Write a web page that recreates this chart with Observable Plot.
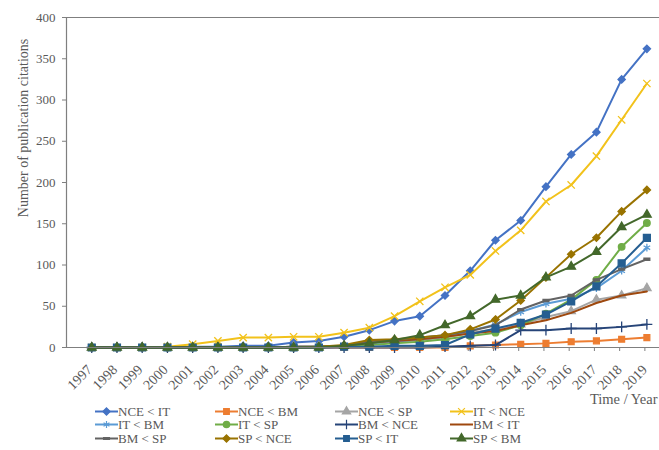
<!DOCTYPE html>
<html><head><meta charset="utf-8">
<script src="https://cdn.jsdelivr.net/npm/d3@7"></script>
<script src="https://cdn.jsdelivr.net/npm/@observablehq/plot@0.6"></script>
<style>
body{margin:0;background:#fff;}
#wrap{position:relative;width:659px;height:450px;font-family:"Liberation Serif","Times New Roman",serif;color:#595959;overflow:hidden;}
#legend{position:absolute;left:0;top:0;width:659px;height:450px;pointer-events:none;}
.item{position:absolute;display:flex;align-items:center;font-family:"Liberation Serif","Times New Roman",serif;font-size:13px;line-height:13px;white-space:nowrap;color:#595959;}
.item svg{display:block;}
</style></head><body><div id="wrap"><div id="chart"></div><div id="legend"></div></div>
<script>
// ---- data ----
const years = [1997,1998,1999,2000,2001,2002,2003,2004,2005,2006,2007,2008,2009,2010,2011,2012,2013,2014,2015,2016,2017,2018,2019];
const yTicks = [0,50,100,150,200,250,300,350,400];
const seriesNames = ["NCE < IT","NCE < BM","NCE < SP","IT < NCE","IT < BM","IT < SP","BM < NCE","BM < IT","BM < SP","SP < NCE","SP < IT","SP < BM"];
const NCE_IT = [0,0,0,0,1,1,2,2,6,8,13,21,32,38,63,93,130,154,195,234,261,325,362];
const NCE_BM = [0,0,0,0,0,0,0,0,0,0,0,0,0,0,0,2,3,4,5,7,8,10,12];
const NCE_SP = [0,0,0,0,0,0,0,0,1,1,2,4,6,9,12,18,22,28,37,44,58,63,72];
const IT_NCE = [0,0,0,1,4,8,12,12,13,13,18,24,38,56,73,88,117,142,177,197,232,276,320];
const IT_BM  = [0,0,0,0,0,0,0,0,1,1,2,5,7,10,13,20,28,43,53,59,72,93,121];
const IT_SP  = [0,0,0,0,0,0,0,0,0,1,1,3,5,7,10,14,18,27,41,58,82,122,151];
const BM_NCE = [0,0,0,0,0,0,0,0,0,0,0,0,0,0,1,2,3,21,21,23,23,25,28];
const BM_IT  = [0,0,0,0,0,0,0,0,1,1,2,6,8,10,13,17,20,27,33,42,54,63,68];
const BM_SP  = [0,0,0,0,0,0,0,0,1,1,2,8,9,12,15,20,27,46,57,63,82,95,107];
const SP_NCE = [0,0,0,0,0,0,0,0,0,1,3,9,10,12,15,22,34,57,85,113,133,165,191];
const SP_IT  = [0,0,0,0,0,0,0,0,0,0,1,1,2,2,3,16,23,30,40,56,74,102,133];
const SP_BM  = [0,0,0,0,0,0,0,0,0,0,2,5,9,15,27,38,58,63,85,98,116,146,161];
const xTitle = "Time / Year";
const yTitle = "Number of publication citations";

// ---- styles ----
const seriesValues = [NCE_IT,NCE_BM,NCE_SP,IT_NCE,IT_BM,IT_SP,BM_NCE,BM_IT,BM_SP,SP_NCE,SP_IT,SP_BM];
const seriesColors = ["#4472C4","#ED7D31","#A5A5A5","#F2C21B","#5B9BD5","#70AD47","#264478","#9E480E","#636363","#997300","#255E91","#43682B"];
const dash = {draw(ctx, size){ const w = Math.sqrt(size) * 1.1; ctx.rect(-w/2, -1, w, 2); }};
const rhombus = {draw(ctx, size){ const r = Math.sqrt(size / 2); ctx.moveTo(0, -r); ctx.lineTo(r, 0); ctx.lineTo(0, r); ctx.lineTo(-r, 0); ctx.closePath(); }};
const none = null;
const seriesSymbols = [rhombus,d3.symbolSquare,d3.symbolTriangle,d3.symbolTimes,d3.symbolAsterisk,d3.symbolCircle,d3.symbolPlus,none,dash,rhombus,d3.symbolSquare,d3.symbolTriangle];
const seriesR = [2.9,3.3,3.1,3.4,3.6,3.3,3.6,3,3,2.9,3.9,3.2];
const axisColor = "#7f7f7f";

const rows = [];
seriesNames.forEach((name, i) => years.forEach((yr, j) => rows.push({series: name, year: yr, value: seriesValues[i][j]})));

const seriesMarks = [];
seriesNames.forEach((name, i) => {
  const data = rows.filter(d => d.series === name);
  seriesMarks.push(Plot.line(data, {x: "year", y: "value", stroke: seriesColors[i], strokeWidth: 2}));
  if (seriesSymbols[i] !== none) {
    seriesMarks.push(Plot.dot(data, {x: "year", y: "value", symbol: seriesSymbols[i], fill: seriesColors[i], stroke: seriesColors[i], strokeWidth: 1.3, r: seriesR[i]}));
  }
});

const chart = Plot.plot({
  width: 659, height: 405,
  marginLeft: 66, marginRight: 0, marginTop: 17, marginBottom: 58,
  style: {fontFamily: "'Liberation Serif', 'Times New Roman', serif", fontSize: "13px", color: "#595959", background: "white", overflow: "visible"},
  x: {domain: [1996, 2019.5]},
  y: {domain: [0, 400]},
  marks: [
    Plot.ruleY([400], {stroke: axisColor, strokeWidth: 1.2}),
    Plot.axisY({ticks: yTicks, tickSize: 4, tickPadding: 7, label: null, stroke: axisColor}),
    Plot.axisX({ticks: years, tickFormat: d => String(d), tickRotate: -45, tickSize: 4, tickPadding: 16, label: null, stroke: axisColor, fontSize: 14, dx: -2}),
    Plot.ruleX([1996], {stroke: axisColor, strokeWidth: 1.2}),
    ...seriesMarks,
    Plot.ruleY([0], {stroke: axisColor, strokeWidth: 1.2}),
    Plot.text([xTitle], {text: d => d, frameAnchor: "bottom-right", dy: 56, dx: -2, textAnchor: "end", fontSize: 14.5, fill: "#595959"})
  ]
});
document.getElementById("chart").appendChild(chart);

// y-axis title as real SVG text
d3.select(chart).append("text")
  .attr("transform", "translate(23,128) rotate(-90)")
  .attr("text-anchor", "middle")
  .attr("dominant-baseline", "central")
  .attr("fill", "#595959")
  .attr("font-size", 14)
  .attr("font-family", "'Liberation Serif', 'Times New Roman', serif")
  .text(yTitle);

// ---- legend ----
const legend = d3.select("#legend");
const colLeft = [95, 215, 335, 450];
const rowTop = [411, 424.5, 438];
seriesNames.forEach((name, i) => {
  const item = legend.append("div").attr("class", "item")
    .style("left", colLeft[i % 4] + "px")
    .style("top", (rowTop[Math.floor(i / 4)] - 6.5) + "px");
  const sw = item.append("svg").attr("width", 23).attr("height", 13);
  sw.append("line").attr("x1", 0).attr("x2", 23).attr("y1", 6.5).attr("y2", 6.5)
    .attr("stroke", seriesColors[i]).attr("stroke-width", 2);
  const s = seriesSymbols[i];
  if (s !== none) {
    const r = Math.min(seriesR[i], 3.2);
    sw.append("path").attr("transform", "translate(11.5,6.5)")
      .attr("d", d3.symbol(s, Math.PI * r * r)())
      .attr("fill", seriesColors[i]).attr("stroke", seriesColors[i]).attr("stroke-width", 1.2);
  }
  item.append("span").text(name);
});
</script>
</body></html>
